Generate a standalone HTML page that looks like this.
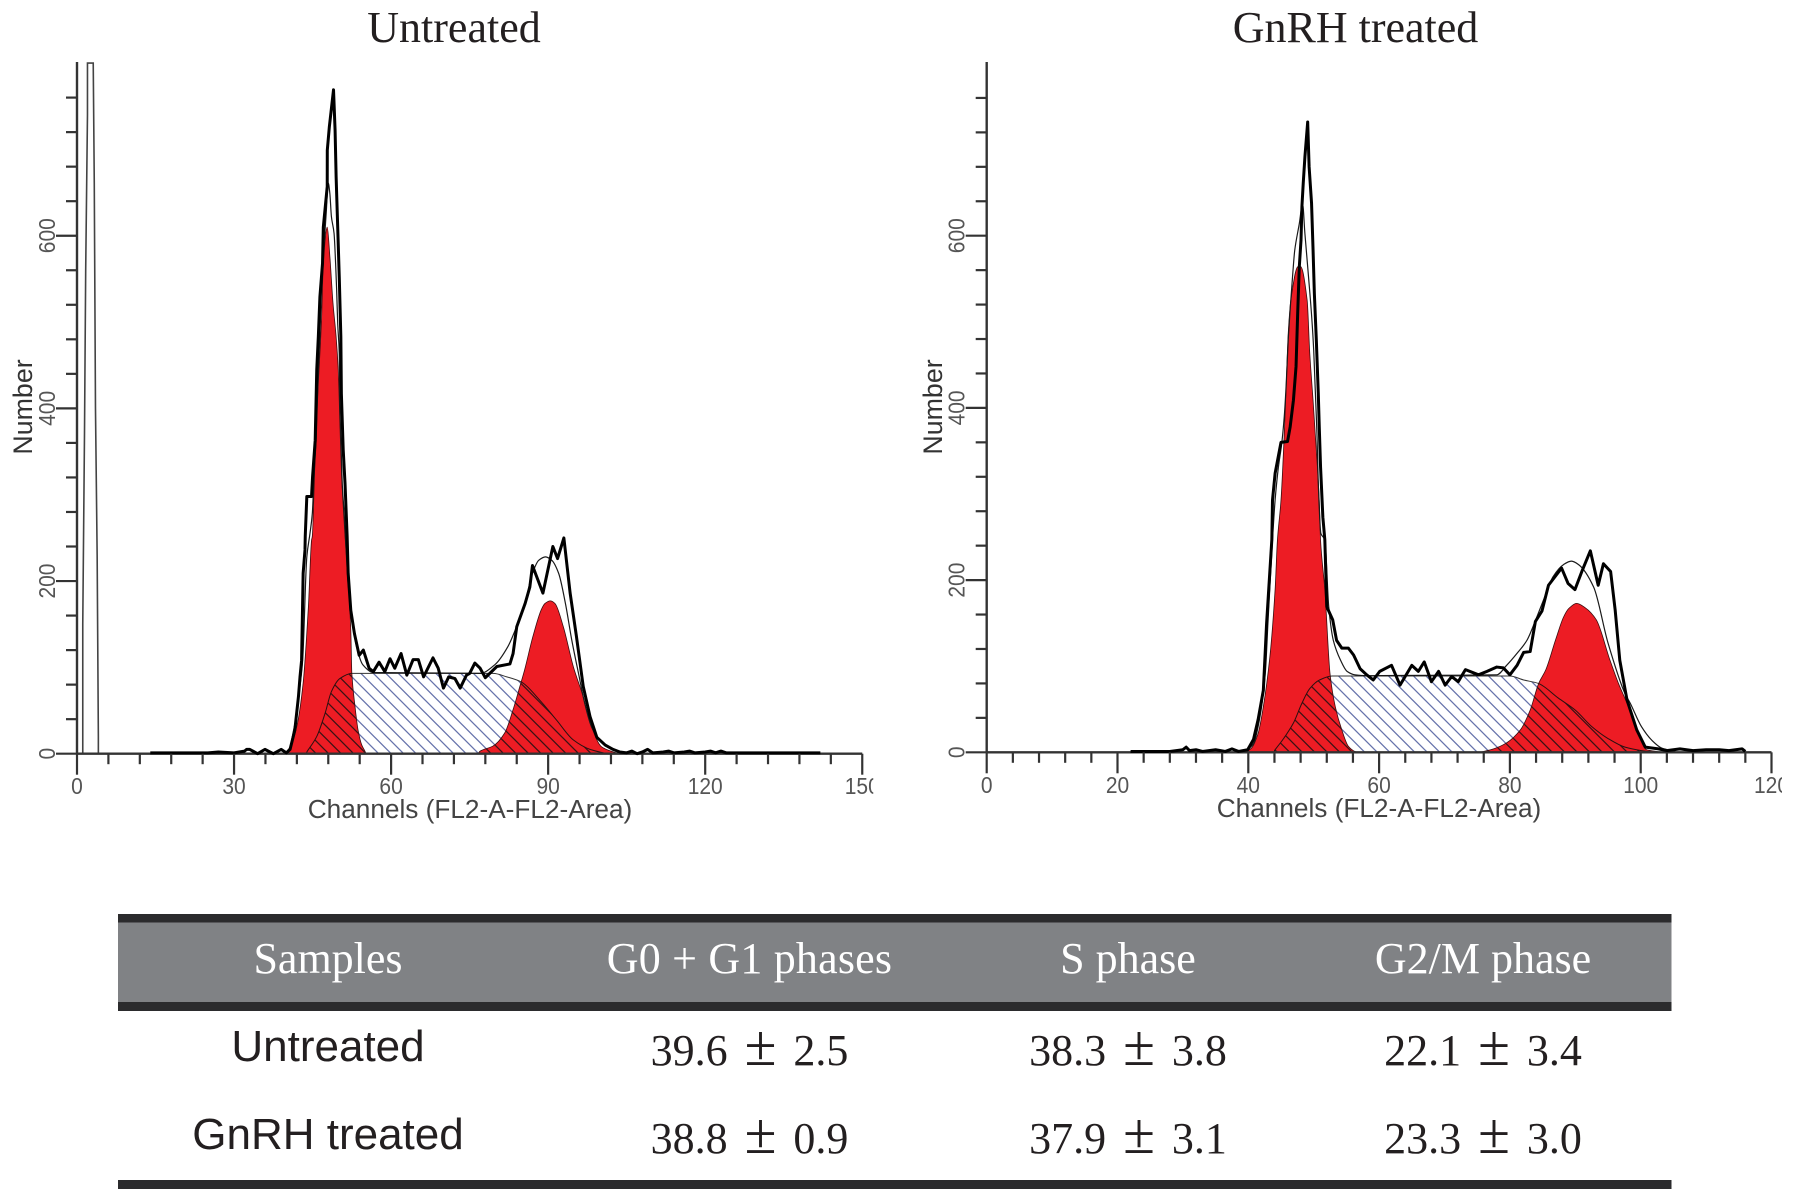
<!DOCTYPE html>
<html lang="en">
<head>
<meta charset="utf-8">
<title>Cell cycle histograms</title>
<style>
html,body{margin:0;padding:0;background:#fff;}
svg{display:block;}
.serif{font-family:"Liberation Serif",serif;}
.sans{font-family:"Liberation Sans",sans-serif;}
</style>
</head>
<body>
<svg id="figure" xmlns="http://www.w3.org/2000/svg" width="1795" height="1201" viewBox="0 0 1795 1201">
  <rect width="1795" height="1201" fill="#fff"/>
  <defs>
    <pattern id="hatch-blue" patternUnits="userSpaceOnUse" width="12.5" height="12.5">
      <path d="M-2,-2L14.5,14.5M-2,10.5L2,14.5M10.5,-2L14.5,2" stroke="#6673ab" stroke-width="1.3" fill="none"/>
    </pattern>
    <pattern id="hatch-dark" patternUnits="userSpaceOnUse" width="12.5" height="12.5">
      <path d="M-2,-2L14.5,14.5M-2,10.5L2,14.5M10.5,-2L14.5,2" stroke="#3b1214" stroke-width="1.3" fill="none"/>
    </pattern>
  </defs>

  <text class="serif" x="454" y="42" font-size="44" text-anchor="middle" fill="#231f20">Untreated</text>
  <text class="serif" x="1355.5" y="42" font-size="44" text-anchor="middle" fill="#231f20">GnRH treated</text>

  <g id="chart-untreated"></g>
  <g id="chart-treated"></g>

  <g>
    <rect x="118" y="918" width="1553.5" height="88" fill="#808285"/>
    <rect x="118" y="914" width="1553.5" height="8.5" fill="#2b2b2d"/>
    <rect x="118" y="1002" width="1553.5" height="9" fill="#2b2b2d"/>
    <rect x="118" y="1180" width="1553.5" height="9" fill="#2b2b2d"/>
    <g class="serif" font-size="44" fill="#fff" text-anchor="middle">
      <text x="328" y="973">Samples</text>
      <text x="749.5" y="973" letter-spacing="0.2">G0 + G1 phases</text>
      <text x="1128" y="973">S phase</text>
      <text x="1483" y="973">G2/M phase</text>
    </g>
    <g class="sans" font-size="44" fill="#231f20" text-anchor="middle">
      <text x="328" y="1061">Untreated</text>
      <text x="328" y="1149">GnRH treated</text>
    </g>
    <g class="serif" font-size="44" fill="#231f20" text-anchor="middle">
      <text x="749.5" y="1065">39.6<tspan dx="17" font-size="58">±</tspan><tspan dx="17">2.5</tspan></text>
      <text x="1128" y="1065">38.3<tspan dx="17" font-size="58">±</tspan><tspan dx="17">3.8</tspan></text>
      <text x="1483" y="1065">22.1<tspan dx="17" font-size="58">±</tspan><tspan dx="17">3.4</tspan></text>
      <text x="749.5" y="1153">38.8<tspan dx="17" font-size="58">±</tspan><tspan dx="17">0.9</tspan></text>
      <text x="1128" y="1153">37.9<tspan dx="17" font-size="58">±</tspan><tspan dx="17">3.1</tspan></text>
      <text x="1483" y="1153">23.3<tspan dx="17" font-size="58">±</tspan><tspan dx="17">3.0</tspan></text>
    </g>
  </g>
</svg>

<script>
// ---------- shared tick labels ----------
var yTickLabels = [0, 200, 400, 600];
var yMinorStep = [40];
var yTickMax = [760];
var xTickLabelsA = [0, 30, 60, 90, 120, 150];
var xTickLabelsB = [0, 20, 40, 60, 80, 100, 120];

// ---------- untreated sample ----------
var debrisChA = [1.1, 1.1, 1.43, 1.66, 2.0, 2.0, 3.1, 3.3, 3.53, 3.85, 4.08, 4.08];
var debrisCountA = [0, 150, 370, 560, 740, 800, 800, 660, 400, 230, 20, 0];

var rawChA = [14, 25, 27, 30, 32, 32.4, 33, 34.5, 35.9, 37.5, 39, 40, 40.7, 41.6, 42.3, 42.6, 42.9, 43.2, 43.55, 43.6, 43.9, 44.8, 45, 45.5, 45.8, 46.1, 46.4, 46.9, 47.05, 47.8, 47.81, 48.2, 49, 49.3, 49.5, 49.8, 50.1, 50.4, 50.5, 50.85, 51.2, 51.6, 51.8, 52.3, 53, 53.9, 54.7, 55.8, 56.6, 57.7, 58.8, 59.8, 60.7, 61.9, 63, 64.2, 65.2, 66.2, 68, 69, 70, 71, 72.2, 73.2, 74.4, 75, 76, 77, 78, 80.2, 82.7, 83.3, 84, 85.6, 86.5, 87, 89, 90.9, 91.8, 93, 94.2, 95.4, 96.7, 98, 99.3, 100.9, 102.4, 103.7, 105, 106, 107, 108, 109, 110, 112, 113, 114, 116, 117, 118, 120, 121, 122, 123, 124, 126, 130, 133, 142];
var rawCountA = [1, 1, 2, 1, 3, 5, 5, 0, 5, 0, 5, 1, 5, 27, 66, 89, 108, 209, 236, 252, 298, 298, 321, 363, 445, 483, 529, 568, 610, 657, 699, 726, 769, 722, 668, 610, 552, 483, 417, 352, 313, 252, 209, 166, 139, 114, 120, 99, 95, 106, 95, 110, 99, 116, 91, 109, 109, 89, 111, 99, 76, 89, 87, 76, 91, 93, 105, 99, 88, 101, 104, 116, 147, 174, 193, 218, 186, 240, 226, 250, 186, 136, 78, 43, 19, 10, 5, 2, 1, 3, 0, 2, 5, 1, 2, 3, 1, 2, 3, 1, 2, 3, 1, 3, 1, 1, 1, 1, 1];

var fitChA = [40.6, 41.3, 42.1, 42.6, 43.1, 43.9, 44.5, 44.95, 45.3, 45.7, 46.1, 46.4, 46.7, 47, 47.3, 47.6, 48, 48.3, 48.6, 49.1, 49.4, 49.6, 49.8, 50.1, 50.2, 50.4, 50.7, 51, 51.8, 52.5, 53.4, 54.6, 56.6, 77, 79.8, 82.3, 84.2, 85.7, 87, 88.2, 89.5, 90.7, 92, 93.3, 94.5, 95.8, 97, 98.3, 99.9, 101.5, 103.4, 105];
var fitCountA = [3, 25, 50, 78, 108, 228, 255, 278, 325, 367, 445, 483, 537, 576, 599, 626, 661, 649, 622, 603, 568, 537, 498, 464, 406, 367, 309, 282, 197, 159, 124, 103, 94, 93, 103, 124, 151, 178, 209, 224, 228, 224, 209, 174, 132, 93, 58, 31, 16, 8, 3, 0];

var g1ChA = [39.8, 40.7, 42, 43.2, 44.2, 44.8, 44.95, 45.4, 45.9, 46.7, 47.05, 47.8, 48.3, 48.9, 49.5, 49.9, 50.2, 50.5, 51.2, 51.8, 52.3, 52.5, 53.1, 53.7, 54.4, 55, 55.2];
var g1CountA = [1, 8, 32, 82, 170, 247, 252, 329, 406, 502, 568, 610, 576, 522, 483, 445, 387, 329, 252, 201, 143, 93, 55, 27, 10, 3, 0];

var sChA = [43.9, 45.8, 47.4, 48.6, 50.2, 52.5, 79.5, 82.1, 84.9, 88.4, 91.6, 94.8, 98, 101.2];
var sCountA = [2, 20, 47, 72, 87, 93, 93, 89, 83, 62, 39, 16, 5, 0];

var g2ChA = [76.6, 77, 79.5, 81.7, 83.3, 84.6, 85.5, 87.1, 88.7, 89.4, 90.4, 91.3, 92.9, 94.8, 96.7, 98.3, 100.2, 102.5, 103.7];
var g2CountA = [0, 3, 9, 24, 51, 78, 97, 136, 167, 174, 177, 174, 147, 101, 66, 31, 8, 2, 0];

// ---------- GnRH treated sample ----------
var rawChB = [22, 28, 30, 30.5, 31, 32, 33, 35, 36.5, 37.5, 38.5, 39.9, 40.8, 41.5, 42.3, 42.8, 43.6, 43.7, 44.1, 45, 46, 46.4, 46.9, 47.3, 47.55, 47.8, 48.06, 48.2, 48.4, 48.66, 49.08, 49.3, 49.67, 49.9, 50.1, 50.4, 50.7, 50.85, 51.05, 51.4, 51.7, 52, 52.9, 53.5, 54.3, 55.3, 56.1, 57.1, 58.1, 59.1, 60.1, 61.9, 63.2, 65, 66, 66.9, 68, 69.1, 70.1, 71.1, 72.1, 73.2, 75.2, 76.5, 78, 79, 80, 81.1, 82.1, 83.1, 83.9, 84.9, 85.9, 87.9, 88.9, 89.95, 91, 92.3, 93.5, 94.3, 95.4, 96.1, 96.8, 97.9, 99.4, 100.7, 102.7, 104, 106, 108, 110, 112, 113.5, 115.5, 116];
var rawCountB = [1, 1, 3, 6, 2, 3, 1, 3, 1, 4, 1, 3, 15, 38, 72, 150, 247, 293, 324, 360, 361, 378, 409, 448, 510, 564, 595, 634, 661, 692, 732, 680, 638, 584, 533, 479, 417, 378, 331, 273, 247, 169, 154, 130, 121, 121, 113, 97, 90, 84, 94, 101, 78, 101, 94, 105, 82, 94, 78, 88, 82, 96, 90, 94, 99, 98, 90, 101, 116, 117, 152, 164, 194, 214, 196, 189, 210, 234, 194, 219, 210, 165, 107, 61, 26, 6, 4, 2, 4, 2, 3, 3, 2, 4, 1];

var fitChB = [39.9, 40.8, 41.8, 42.6, 43, 43.7, 44.1, 44.6, 45.1, 45.5, 45.8, 46.1, 46.5, 46.8, 47.1, 47.8, 48.3, 48.65, 49.2, 49.7, 50, 50.2, 50.5, 50.7, 51.1, 51.7, 52.3, 53, 54.1, 55.1, 56.3, 58.1, 78, 79.5, 81.1, 82.6, 83.9, 85.3, 86.6, 88.2, 89.4, 90.5, 92.8, 95, 97.6, 98.4, 100.1, 101.7, 103.2, 105.3];
var fitCountB = [3, 10, 42, 92, 150, 247, 293, 331, 358, 390, 428, 478, 525, 556, 583, 614, 637, 603, 553, 505, 467, 428, 370, 312, 254, 247, 169, 130, 107, 94, 90, 89, 90, 101, 115, 130, 153, 180, 204, 218, 222, 218, 192, 127, 68, 57, 30, 14, 5, 1];

var g1ChB = [39.8, 40.5, 41.5, 42.3, 43.3, 44.1, 44.45, 45, 45.5, 45.8, 46.1, 46.5, 47.6, 48, 49, 49.4, 49.9, 50.4, 50.85, 51.05, 51.7, 52.5, 53.3, 54.3, 55.3, 56.3, 56.8];
var g1CountB = [1, 5, 22, 53, 111, 189, 246, 293, 370, 428, 486, 525, 564, 564, 525, 463, 409, 351, 293, 246, 189, 91, 53, 26, 7, 1, 0];

var sChB = [44, 45.4, 46.9, 48.2, 49.4, 50.9, 52.8, 80, 82.1, 84.35, 87.4, 90, 92.5, 95, 97.6, 100.1, 102.2];
var sCountB = [2, 16, 34, 57, 74, 84, 88.6, 88.6, 84, 80, 63, 49, 30, 16, 6, 2, 0];

var g2ChB = [75.4, 77.5, 79.5, 81.6, 83.1, 84.4, 85.5, 87, 88.2, 89, 90.2, 91.5, 93.2, 95.3, 96.6, 97.9, 99.4, 100.9, 102.4, 103];
var g2CountB = [0, 4, 11, 26, 49, 80, 96, 131, 157, 167, 173, 168, 154, 107, 80, 57, 26, 3, 1, 0];

var SVGNS = 'http://www.w3.org/2000/svg';

function make(tag, parent) {
  var el = document.createElementNS(SVGNS, tag);
  parent.appendChild(el);
  return el;
}

function linePath(chs, counts, X, Y) {
  var d = '';
  for (var i = 0; i < chs.length; i++) {
    d += (i ? 'L' : 'M') + X(chs[i]).toFixed(2) + ',' + Y(counts[i]).toFixed(2);
  }
  return d;
}

// Monotone cubic through the read points, so smooth curves never overshoot.
function smoothPath(chs, counts, X, Y) {
  var n = chs.length, xs = [], ys = [], sec = [], m = [], i;
  for (i = 0; i < n; i++) { xs.push(X(chs[i])); ys.push(Y(counts[i])); }
  for (i = 0; i < n - 1; i++) { sec.push((ys[i + 1] - ys[i]) / (xs[i + 1] - xs[i])); }
  m.push(sec[0]);
  for (i = 1; i < n - 1; i++) {
    if (sec[i - 1] * sec[i] <= 0) { m.push(0); }
    else { m.push(2 * sec[i - 1] * sec[i] / (sec[i - 1] + sec[i])); }
  }
  m.push(sec[n - 2]);
  var d = 'M' + xs[0].toFixed(2) + ',' + ys[0].toFixed(2);
  for (i = 0; i < n - 1; i++) {
    var h = (xs[i + 1] - xs[i]) / 3;
    d += 'C' + (xs[i] + h).toFixed(2) + ',' + (ys[i] + m[i] * h).toFixed(2) + ' ' +
         (xs[i + 1] - h).toFixed(2) + ',' + (ys[i + 1] - m[i + 1] * h).toFixed(2) + ' ' +
         xs[i + 1].toFixed(2) + ',' + ys[i + 1].toFixed(2);
  }
  return d;
}

function areaPath(chs, counts, X, Y) {
  return smoothPath(chs, counts, X, Y) +
    'L' + X(chs[chs.length - 1]).toFixed(2) + ',' + Y(0).toFixed(2) +
    'L' + X(chs[0]).toFixed(2) + ',' + Y(0).toFixed(2) + 'Z';
}

function drawChart(root, id, cfg, s) {
  var X = function (c) { return cfg.x0 + c * cfg.kx; };
  var Y = function (v) { return cfg.y0 - v * cfg.ky; };
  var xEnd = cfg.xMax;
  var AX = '#333';
  var LB = '#555';

  // debris gate spike
  if (s.debrisCh) {
    var deb = make('path', root);
    
    
    deb.setAttribute('d', linePath(s.debrisCh, s.debrisCount, X, Y));
    deb.setAttribute('fill', '#fff');
    deb.setAttribute('stroke', '#444');
    deb.setAttribute('stroke-width', '1.6');
  }

  // S phase hatched area
  var sBg = make('path', root);
  
  
  sBg.setAttribute('d', areaPath(s.sCh, s.sCount, X, Y));
  sBg.setAttribute('fill', 'url(#hatch-blue)');
  sBg.setAttribute('stroke', '#333');
  sBg.setAttribute('stroke-width', '1');

  // Red phase peaks
  var g1 = make('path', root);
  
  
  g1.setAttribute('d', areaPath(s.g1Ch, s.g1Count, X, Y));
  g1.setAttribute('fill', '#ed1c24');
  g1.setAttribute('stroke', '#3a0d0f');
  g1.setAttribute('stroke-width', '0.8');

  var g2 = make('path', root);
  
  
  g2.setAttribute('d', areaPath(s.g2Ch, s.g2Count, X, Y));
  g2.setAttribute('fill', '#ed1c24');
  g2.setAttribute('stroke', '#3a0d0f');
  g2.setAttribute('stroke-width', '0.8');

  // Dark hatch where S phase overlaps the red peaks
  var clip = make('clipPath', root);
  clip.setAttribute('id', id + '-red-clip');
  var c1 = make('path', clip);
  c1.setAttribute('d', areaPath(s.g1Ch, s.g1Count, X, Y));
  var c2 = make('path', clip);
  c2.setAttribute('d', areaPath(s.g2Ch, s.g2Count, X, Y));

  var sFg = make('path', root);
  
  
  sFg.setAttribute('d', areaPath(s.sCh, s.sCount, X, Y));
  sFg.setAttribute('fill', 'url(#hatch-dark)');
  sFg.setAttribute('stroke', '#2a1010');
  sFg.setAttribute('stroke-width', '1');
  sFg.setAttribute('clip-path', 'url(#' + id + '-red-clip)');

  // Fit envelope
  var fit = make('path', root);
  
  
  fit.setAttribute('d', smoothPath(s.fitCh, s.fitCount, X, Y));
  fit.setAttribute('fill', 'none');
  fit.setAttribute('stroke', '#1a1a1a');
  fit.setAttribute('stroke-width', '1.2');

  // Axes
  var yAxis = make('line', root);
  
  
  yAxis.setAttribute('x1', cfg.x0);
  yAxis.setAttribute('x2', cfg.x0);
  yAxis.setAttribute('y1', cfg.top);
  yAxis.setAttribute('y2', cfg.y0);
  yAxis.setAttribute('stroke', AX);
  yAxis.setAttribute('stroke-width', '2.4');

  var xAxis = make('line', root);
  
  
  xAxis.setAttribute('x1', cfg.x0);
  xAxis.setAttribute('x2', X(xEnd));
  xAxis.setAttribute('y1', cfg.y0);
  xAxis.setAttribute('y2', cfg.y0);
  xAxis.setAttribute('stroke', AX);
  xAxis.setAttribute('stroke-width', '2.4');

  // Raw histogram
  var raw = make('path', root);
  
  
  raw.setAttribute('d', linePath(s.rawCh, s.rawCount, X, Y));
  raw.setAttribute('fill', 'none');
  raw.setAttribute('stroke', '#000');
  raw.setAttribute('stroke-width', '3');
  raw.setAttribute('stroke-linejoin', 'round');

  // X ticks
  var step = s.xTicks[1] - s.xTicks[0];
  var minor = step / 5;
  for (var t = 0; t <= xEnd + 0.001; t += minor) {
    var isMajor = Math.abs(t / step - Math.round(t / step)) < 0.001;
    var tk = make('line', root);
    
    
    tk.setAttribute('x1', X(t));
    tk.setAttribute('x2', X(t));
    tk.setAttribute('y1', cfg.y0);
    tk.setAttribute('y2', cfg.y0 + (isMajor ? 21 : 10.5));
    tk.setAttribute('stroke', AX);
    tk.setAttribute('stroke-width', '2.2');
  }

  var labelClip = make('clipPath', root);
  labelClip.setAttribute('id', id + '-label-clip');
  var lcRect = make('rect', labelClip);
  lcRect.setAttribute('x', cfg.x0 - 40);
  lcRect.setAttribute('y', cfg.y0);
  lcRect.setAttribute('width', X(xEnd) + cfg.clipPad - cfg.x0 + 40);
  lcRect.setAttribute('height', 60);

  s.xTicks.forEach(function (v) {
    var g = make('g', root);
    g.setAttribute('clip-path', 'url(#' + id + '-label-clip)');
    var lb = make('text', g);
    
    
    lb.setAttribute('class', 'sans');
    lb.setAttribute('font-size', '21');
    lb.setAttribute('fill', LB);
    lb.setAttribute('text-anchor', 'middle');
    lb.setAttribute('transform', 'translate(' + X(v) + ',' + (cfg.y0 + 40.5) + ') scale(1,1.08)');
    lb.textContent = v;
  });

  // Y ticks
  for (var yv = 0; yv <= yTickMax[0]; yv += yMinorStep[0]) {
    var isMaj = yTickLabels.indexOf(yv) >= 0;
    var ytk = make('line', root);
    
    
    ytk.setAttribute('x1', cfg.x0);
    ytk.setAttribute('x2', cfg.x0 - (isMaj ? 21 : 11));
    ytk.setAttribute('y1', Y(yv));
    ytk.setAttribute('y2', Y(yv));
    ytk.setAttribute('stroke', AX);
    ytk.setAttribute('stroke-width', '2.2');
  }

  yTickLabels.forEach(function (v) {
    var lb = make('text', root);
    
    
    lb.setAttribute('class', 'sans');
    lb.setAttribute('font-size', '21');
    lb.setAttribute('fill', LB);
    lb.setAttribute('text-anchor', 'middle');
    lb.setAttribute('transform', 'translate(' + (cfg.x0 - 22) + ',' + Y(v) + ') rotate(-90) scale(1,1.12)');
    lb.textContent = v;
  });

  var xt = make('text', root);
  
  
  xt.setAttribute('class', 'sans');
  xt.setAttribute('font-size', '26.2');
  xt.setAttribute('fill', '#444');
  xt.setAttribute('text-anchor', 'middle');
  xt.setAttribute('x', cfg.xTitleX);
  xt.setAttribute('y', cfg.xTitleY);
  xt.textContent = 'Channels (FL2-A-FL2-Area)';

  var yt = make('text', root);
  
  
  yt.setAttribute('class', 'sans');
  yt.setAttribute('font-size', '26.8');
  yt.setAttribute('fill', '#333');
  yt.setAttribute('text-anchor', 'middle');
  yt.setAttribute('transform', 'translate(' + cfg.yTitleX + ',407) rotate(-90)');
  yt.textContent = 'Number';
}

drawChart(document.getElementById('chart-untreated'), 'untreated',
  { x0: 77, kx: 5.235, y0: 753.7, ky: 0.8633, top: 62, xMax: 150, clipPad: 11, xTitleX: 470, xTitleY: 818, yTitleX: 32 },
  { debrisCh: debrisChA, debrisCount: debrisCountA, rawCh: rawChA, rawCount: rawCountA, fitCh: fitChA, fitCount: fitCountA,
    g1Ch: g1ChA, g1Count: g1CountA, sCh: sChA, sCount: sCountA, g2Ch: g2ChA, g2Count: g2CountA, xTicks: xTickLabelsA });

drawChart(document.getElementById('chart-treated'), 'treated',
  { x0: 986.7, kx: 6.54, y0: 752.3, ky: 0.861, top: 62, xMax: 120, clipPad: 10.5, xTitleX: 1379, xTitleY: 817, yTitleX: 942 },
  { rawCh: rawChB, rawCount: rawCountB, fitCh: fitChB, fitCount: fitCountB,
    g1Ch: g1ChB, g1Count: g1CountB, sCh: sChB, sCount: sCountB, g2Ch: g2ChB, g2Count: g2CountB, xTicks: xTickLabelsB });
</script>
</body>
</html>
